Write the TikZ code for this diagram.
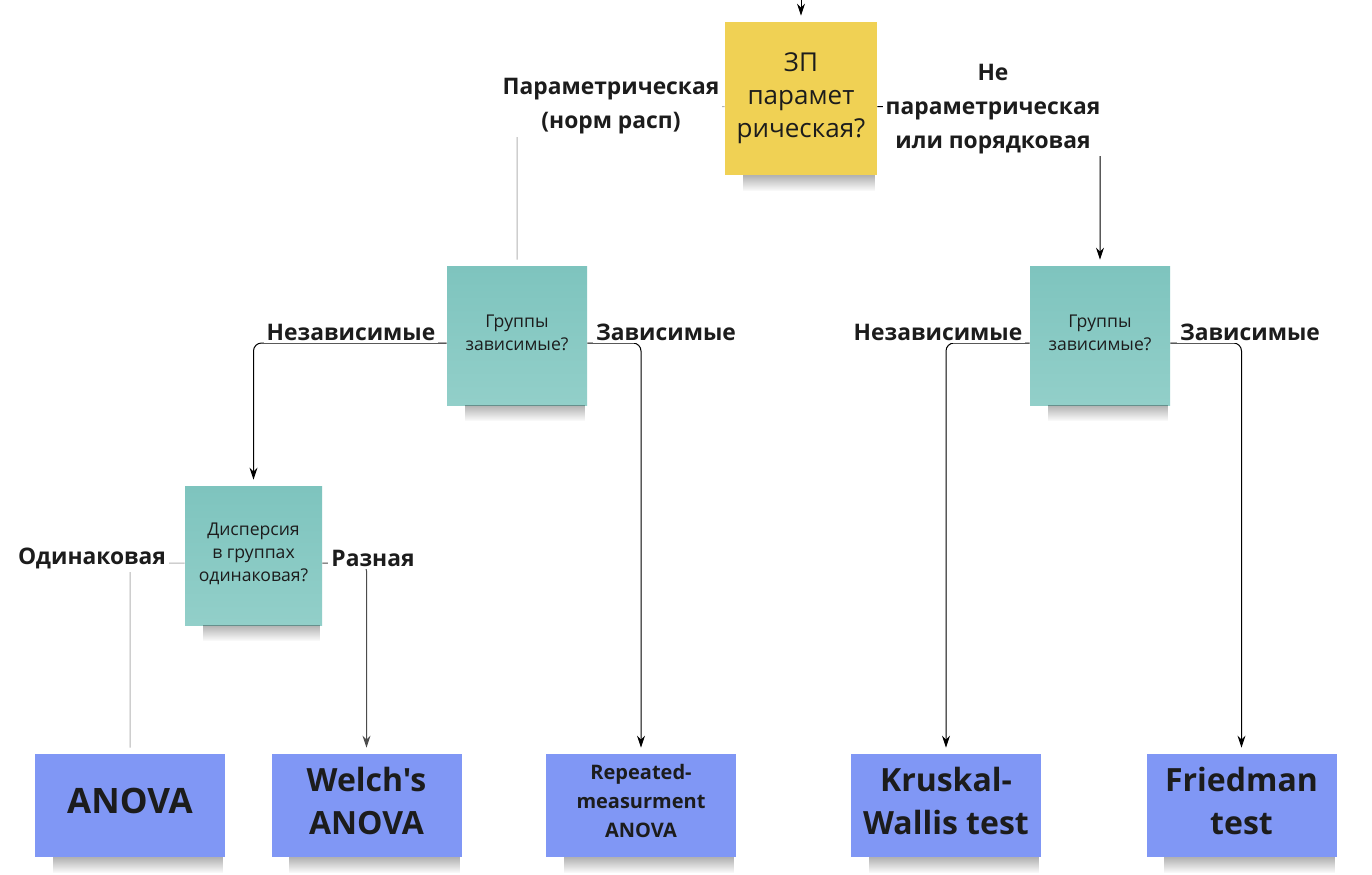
\documentclass[tikz,border=0pt]{standalone}
\usepackage{fontspec}
\setmainfont{Open Sans}[Ligatures=TeXOff]
\usetikzlibrary{arrows.meta,fadings}

\definecolor{noteyellow}{HTML}{F0D154}
\definecolor{tealtop}{HTML}{7EC4BE}
\definecolor{tealbot}{HTML}{92CFC9}
\definecolor{noteblue}{HTML}{8097F5}
\definecolor{ink}{HTML}{1C1C1C}
\definecolor{paleline}{HTML}{B4B4B4}

% extra depth under the last line, lifts the text a little
\newcommand{\liftby}[1]{\rule[-#1]{0pt}{#1}}

\tikzset{
  note/.style={inner sep=0pt, align=center, text=ink},
  asknote/.style={note, minimum width=70pt, minimum height=69.5pt,
    top color=tealtop, bottom color=tealbot,
    font=\fontsize{8.8pt}{11.5pt}\selectfont, execute at end node=\liftby{3pt}},
  testnote/.style={note, fill=noteblue, minimum width=95pt, minimum height=51.5pt,
    execute at end node=\liftby{5pt}},
  branch/.style={fill=white, inner sep=1.5pt, align=center, text=ink,
    font=\fontsize{11.4pt}{16.8pt}\selectfont\bfseries},
  arr/.style={draw=black, line width=0.5pt, rounded corners=4pt, shorten >=3pt,
    -{Stealth[length=6pt,width=4pt]}},
  faint/.style={draw=paleline, line width=0.5pt, rounded corners=4pt, shorten >=3pt},
}

\begin{document}
\begin{tikzpicture}[x=0.5pt,y=-0.5pt]
  \fill[white] (0,0) rectangle (1372,874);
  \useasboundingbox (0,0) rectangle (1372,874);

  % Question notes
  \node[note, fill=noteyellow, minimum width=76pt, minimum height=76.5pt,
    font=\fontsize{13pt}{16.5pt}\selectfont] (zp) at (801,98.5) {ЗП\\парамет\\рическая?};
  \node[asknote] (grpL) at (517,335.5) {Группы\\зависимые?};
  \node[asknote] (grpR) at (1100,335.5) {Группы\\зависимые?};
  \node[asknote, minimum width=68.5pt] (disp) at (253.5,555.5) {Дисперсия\\в группах\\одинаковая?};

  % Test notes
  \node[testnote, font=\fontsize{17.5pt}{21pt}\selectfont\bfseries] (anova) at (130,805.5) {ANOVA};
  \node[testnote, font=\fontsize{16pt}{21.5pt}\selectfont\bfseries] (welch) at (366.5,805.5) {Welch's\\ANOVA};
  \node[testnote, font=\fontsize{10pt}{14.5pt}\selectfont\bfseries] (rep) at (641,805.5) {Repeated-\\measurment\\ANOVA};
  \node[testnote, font=\fontsize{16pt}{21.5pt}\selectfont\bfseries] (kw) at (946,805.5) {Kruskal-\\Wallis test};
  \node[testnote, font=\fontsize{16pt}{21.5pt}\selectfont\bfseries] (fr) at (1241.5,805.5) {Friedman\\test};

  % Shadows
  \foreach \n in {zp,grpL,grpR,disp,anova,welch,rep,kw,fr}
    \fill[black, opacity=.3, path fading=south]
      ([xshift=9pt]\n.south west) rectangle ([xshift=-1pt,yshift=-8pt]\n.south east);

  % Connectors
  \coordinate (in) at (801,0);
  \draw[arr] (in) -- (zp.north);
  \draw[faint] ([yshift=-4pt]zp.west) -| (grpL.north);
  \draw[arr] ([yshift=-4pt]zp.east) -| (grpR.north);
  \draw[arr] ([yshift=-3.75pt]grpL.west) -| (disp.north);
  \draw[arr] ([yshift=-3.75pt]grpL.east) -| (rep.north);
  \draw[arr] ([yshift=-3.75pt]grpR.west) -| (kw.north);
  \draw[arr] ([yshift=-3.75pt]grpR.east) -| (fr.north);
  \draw[faint] ([yshift=-3.75pt]disp.west) -| (anova.north);
  \draw[arr, draw=black!70] ([yshift=-3.75pt]disp.east) -| (welch.north);

  % Branch labels
  \node[branch] (lparam) at (611,106) {Параметрическая\\(норм расп)};
  \node[branch] (lnonpar) at (993,109) {Не\\параметрическая\\или порядковая};
  \node[branch] (lindL) at (351,332) {Независимые};
  \node[branch] (ldepL) at (666,332) {Зависимые};
  \node[branch] (lindR) at (938,332) {Независимые};
  \node[branch] (ldepR) at (1250,332) {Зависимые};
  \node[branch] (lsame) at (92,558) {Одинаковая};
  \node[branch] (ldiff) at (373,558) {Разная};
\end{tikzpicture}
\end{document}
